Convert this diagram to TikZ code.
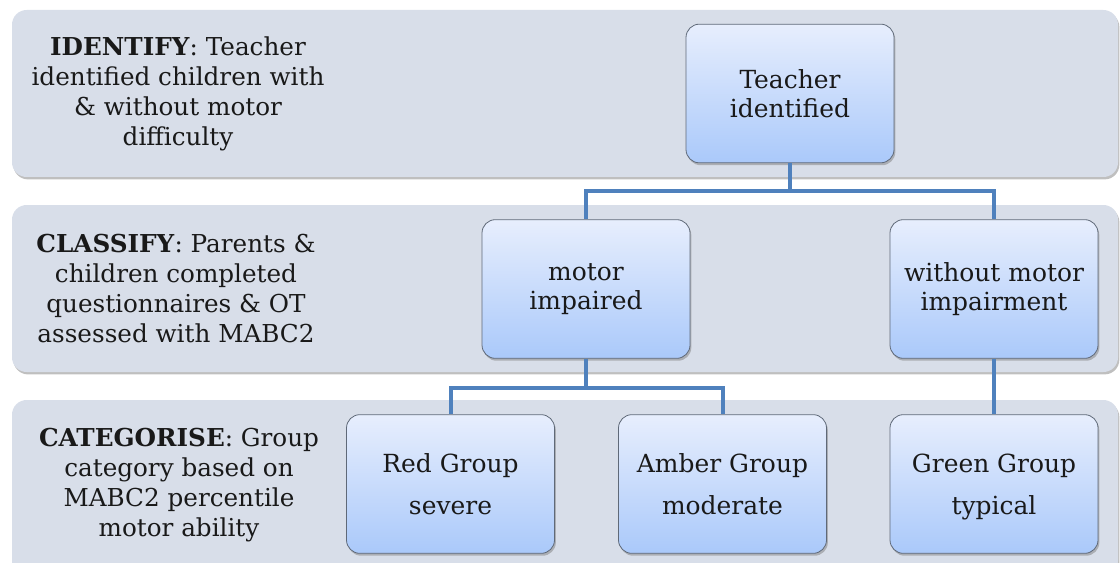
\documentclass[tikz,border=0pt]{standalone}
\usepackage{fontspec}
\setmainfont{DejaVu Serif}
\usetikzlibrary{shadows}
\definecolor{bandgray}{RGB}{216,222,233}
\definecolor{boxtop}{RGB}{231,238,253}
\definecolor{boxbot}{RGB}{170,201,250}
\definecolor{boxedge}{RGB}{95,105,120}
\definecolor{linkblue}{RGB}{79,129,189}
\begin{document}
\begin{tikzpicture}[x=0.75pt,y=-0.75pt,
    band/.style={fill=bandgray,rounded corners=11pt,
      drop shadow={shadow xshift=1pt,shadow yshift=-1.8pt,opacity=0.5}},
    stage/.style={align=center,text=black!90,font=\fontsize{18.5}{22.5}\selectfont},
    grp/.style={draw=boxedge,line width=0.6pt,rounded corners=10pt,
      top color=boxtop,bottom color=boxbot,minimum width=156pt,minimum height=104pt,
      align=center,text=black!90,font=\fontsize{18.7}{21.5}\selectfont,
      drop shadow={shadow xshift=1pt,shadow yshift=-1.8pt,opacity=0.5}},
    link/.style={draw=linkblue,line width=3pt}]
    \clip (0,0) rectangle (1120,563);
    \foreach \t/\b in {10/177,205/372,400/575}
    {
    \fill[band] (12,\t) rectangle (1118,\b);
    }
    \node[stage] (identify) at (178,93.5) {\textbf{IDENTIFY}: Teacher\\identified children with\\\& without motor\\difficulty};
    \node[stage] (classify) at (176,288.5) {\textbf{CLASSIFY}: Parents \&\\children completed\\questionnaires \& OT\\assessed with MABC2};
    \node[stage] (categorise) at (179,485) {\textbf{CATEGORISE}: Group\\category based on\\MABC2 percentile\\motor ability};
    \node[grp] (teacher) at (790,93.5) {Teacher\\identified};
    \node[grp] (motor) at (586,289) {motor\\impaired};
    \node[grp] (typical) at (994,289) {without motor\\impairment};
    \node[grp] (red) at (450.5,484) {\rule{0pt}{21pt}Red Group\\[10pt]\strut severe};
    \node[grp] (amber) at (722.5,484) {\rule{0pt}{21pt}Amber Group\\[10pt]\strut moderate};
    \node[grp] (green) at (994,484) {\rule{0pt}{21pt}Green Group\\[10pt]\strut typical};
    \coordinate (split1) at (790,191);
    \coordinate (split2) at (586,388);
    \draw[link] (teacher.south) -- (split1) -| (motor.north);
    \draw[link] (split1) -| (typical.north);
    \draw[link] (motor.south) -- (split2) -| (red.north);
    \draw[link] (split2) -| (amber.north);
    \draw[link] (typical) -- (green);
\end{tikzpicture}
\end{document}
